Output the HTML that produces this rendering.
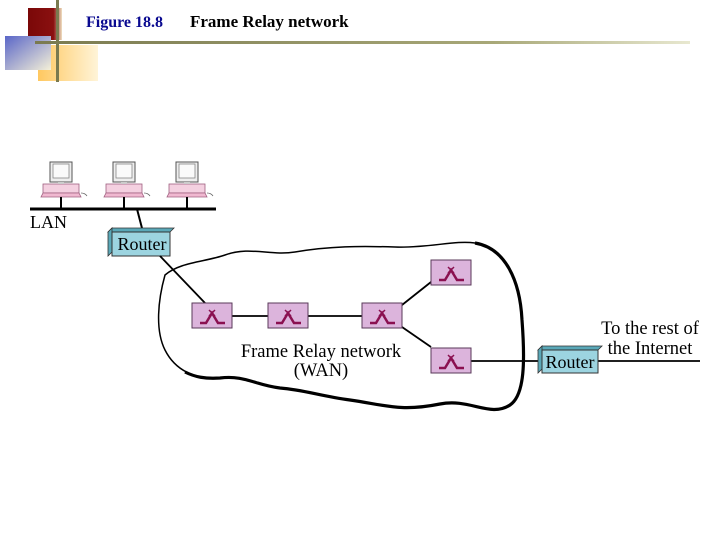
<!DOCTYPE html>
<html><head><meta charset="utf-8"><style>
html,body{margin:0;padding:0;background:#fff;width:720px;height:540px;overflow:hidden}
</style></head><body>
<svg width="720" height="540" xmlns="http://www.w3.org/2000/svg" font-family="Liberation Serif, serif">
<defs>
<linearGradient id="bl" x1="0" y1="0" x2="1" y2="1"><stop offset="0" stop-color="#5a66c8"/><stop offset="1" stop-color="#f4f0d8"/></linearGradient>
<linearGradient id="or" x1="0" y1="0" x2="1" y2="0"><stop offset="0" stop-color="#ffc860"/><stop offset="1" stop-color="#fff4d8"/></linearGradient>
<linearGradient id="rd" x1="0" y1="0" x2="1" y2="0"><stop offset="0" stop-color="#7a0808"/><stop offset="0.75" stop-color="#8a1010"/><stop offset="1" stop-color="#f0e0c0"/></linearGradient>
<linearGradient id="hl" x1="0" y1="0" x2="1" y2="0"><stop offset="0" stop-color="#7a7a50"/><stop offset="0.7" stop-color="#a8a878"/><stop offset="1" stop-color="#e8e8d0"/></linearGradient>
<g id="sw">
<rect x="0" y="0" width="40" height="25" fill="#dcb4dc" stroke="#5a3a5a" stroke-width="1"/>
<path d="M8 20 L14 20 L20 10 L26 20 L33 20" fill="none" stroke="#8a1050" stroke-width="2.5"/>
<path d="M17 7 L23 13 M23 7 L17 13" stroke="#8a1050" stroke-width="1.5"/>
</g>
<g id="pc">
<rect x="7" y="0" width="22" height="20" fill="#eee" stroke="#555" stroke-width="1"/>
<rect x="10" y="2" width="16" height="14" fill="#fafafa" stroke="#888" stroke-width="0.8"/>
<rect x="0" y="22" width="36" height="9" fill="#f4d0e0" stroke="#a06080" stroke-width="0.8"/>
<rect x="15" y="20" width="6" height="2" fill="#ccc"/>
<path d="M-2 35 L38 35 L36 31 L0 31 Z" fill="#f0b8d0" stroke="#a06080" stroke-width="0.8"/>
<path d="M38 31 q4 0 6 3" fill="none" stroke="#666" stroke-width="0.8"/>
</g>
</defs>
<rect x="28" y="8" width="34" height="32" fill="url(#rd)"/>
<rect x="38" y="45" width="60" height="36" fill="url(#or)"/>
<rect x="5" y="36" width="46" height="34" fill="url(#bl)"/>
<rect x="56" y="0" width="3" height="82" fill="#7a7a50"/>
<rect x="35" y="41" width="655" height="3" fill="url(#hl)"/>
<text x="86" y="27" font-size="16" fill="#0a0a90" font-weight="bold">Figure 18.8</text>
<text x="190" y="27" font-size="17" font-weight="bold" fill="#000">Frame Relay network</text>
<use href="#pc" x="43" y="162"/>
<use href="#pc" x="106" y="162"/>
<use href="#pc" x="169" y="162"/>
<path d="M61 197V209M124 197V209M187 197V209" stroke="#000" stroke-width="2"/>
<line x1="30" y1="209" x2="216" y2="209" stroke="#000" stroke-width="3"/>
<text x="30" y="228" font-size="18">LAN</text>
<line x1="137" y1="209" x2="143" y2="232" stroke="#000" stroke-width="2"/>
<path d="M165 275 C180 262,205 262,225 255 C250 246,270 256,295 252 C330 246,360 246,395 247 C430 248,455 240,475 243 C505 248,520 280,522 320 C525 360,525 395,510 405 C490 418,470 398,440 404 C400 412,385 405,350 400 C320 396,305 390,280 388 C255 385,245 375,220 378 C195 380,175 370,165 350 C155 330,158 300,165 275 Z" fill="none" stroke="#000" stroke-width="1.5"/>
<path d="M475 243 C505 248,520 280,522 320 C525 360,525 395,510 405 C490 418,470 398,440 404 C400 412,385 405,350 400 C320 396,305 390,280 388 C255 385,245 375,220 378 C205 379,195 377,185 372" fill="none" stroke="#000" stroke-width="3.2"/>
<polygon points="108,232 112,228 174,228 170,232" fill="#5aa8b8" stroke="#333" stroke-width="0.8"/>
<polygon points="108,232 112,228 112,252 108,256" fill="#5aa8b8" stroke="#333" stroke-width="0.8"/>
<rect x="112" y="232" width="58" height="24" fill="#9cd4e0" stroke="#333" stroke-width="1"/>
<text x="142" y="250" font-size="18" text-anchor="middle">Router</text>
<line x1="160" y1="256" x2="205" y2="303" stroke="#000" stroke-width="1.8"/>
<path d="M232 316H268M308 316H362M402 305L431 282M402 327L431 347M471 361H540M598 361H700" stroke="#000" stroke-width="1.8" fill="none"/>
<use href="#sw" x="192" y="303"/>
<use href="#sw" x="268" y="303"/>
<use href="#sw" x="362" y="303"/>
<use href="#sw" x="431" y="260"/>
<use href="#sw" x="431" y="348"/>
<polygon points="538,350 542,346 602,346 598,350" fill="#5aa8b8" stroke="#333" stroke-width="0.8"/>
<polygon points="538,350 542,346 542,369 538,373" fill="#5aa8b8" stroke="#333" stroke-width="0.8"/>
<rect x="542" y="350" width="56" height="23" fill="#9cd4e0" stroke="#333" stroke-width="1"/>
<text x="570" y="368" font-size="18" text-anchor="middle">Router</text>
<text x="321" y="357" font-size="18.5" text-anchor="middle">Frame Relay network</text>
<text x="321" y="376" font-size="18.5" text-anchor="middle">(WAN)</text>
<text x="650" y="334" font-size="18.5" text-anchor="middle">To the rest of</text>
<text x="650" y="354" font-size="18.5" text-anchor="middle">the Internet</text>
</svg>
</body></html>
